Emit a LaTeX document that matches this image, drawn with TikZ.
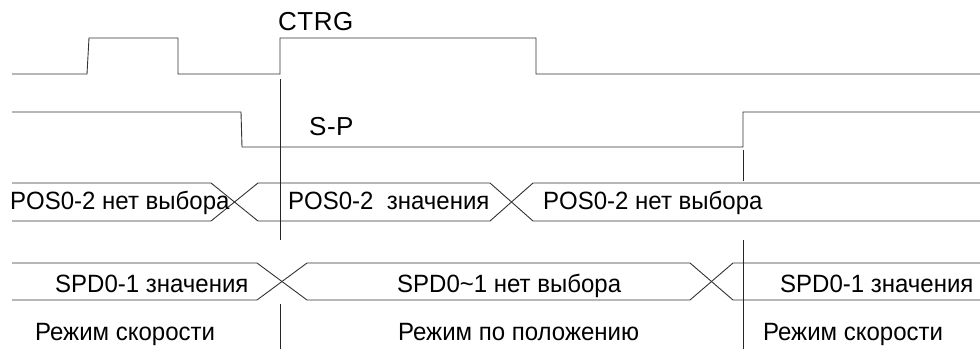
\documentclass[tikz,border=0pt]{standalone}
\usepackage{fontspec}
\setmainfont{Liberation Sans}[FakeStretch=0.96]
\newfontfamily\sigfont{Liberation Sans}[LetterSpace=2]
\usetikzlibrary{positioning}

\begin{document}
\begin{tikzpicture}[x=1pt, y=-1pt,
    wave/.style={draw=black!80, line width=0.9pt},
    marker/.style={draw=black!85, line width=0.9pt},
    lbl/.style={font=\fontsize{25}{29}\selectfont, anchor=base west, inner sep=0pt, text=black},
    siglbl/.style={font=\sigfont\fontsize{26}{30}\selectfont, anchor=base west, inner sep=0pt, text=black}]
  \useasboundingbox (0,0) rectangle (980,349);

  % CTRG input
  \draw[wave] (12,74) -- (87,74) -- (89,38) -- (178,38) -- (178,74) -- (280,74)
    -- (280,38) -- (536,38) -- (536,74) -- (980,74);
  \node[siglbl] (ctrg) at (278,30) {CTRG};

  % S-P input
  \draw[wave] (12,112) -- (241,112) -- (242,147) -- (743,147) -- (743,112) -- (980,112);
  \node[siglbl] (sp) at (309,135) {S-P};

  % POS0-2 bus
  \draw[wave] (12,183) -- (211,183) -- (258,221) -- (490,221) -- (533,183) -- (980,183);
  \draw[wave] (12,221) -- (211,221) -- (258,183) -- (490,183) -- (533,221) -- (980,221);
  \node[lbl] (pos1) at (10,209) {POS0-2 нет выбора};
  \node[lbl] (pos2) at (288,209) {POS0-2\ \ значения};
  \node[lbl] (pos3) at (543,209) {POS0-2 нет выбора};

  % SPD0-1 bus
  \draw[wave] (12,263) -- (257,263) -- (307,300) -- (690,300) -- (733,263) -- (980,263);
  \draw[wave] (12,300) -- (257,300) -- (307,263) -- (690,263) -- (733,300) -- (980,300);
  \node[lbl] (spd1) at (55,292) {SPD0-1 значения};
  \node[lbl] (spd2) at (397,292) {SPD0\textasciitilde1 нет выбора};
  \node[lbl] (spd3) at (780,292) {SPD0-1 значения};

  % mode labels
  \node[lbl] (mode1) at (35,340) {Режим скорости};
  \node[lbl] (mode2) at (398,340) {Режим по положению};
  \node[lbl] (mode3) at (763,340) {Режим скорости};

  % time markers
  \draw[marker] (280,79) -- (280,240);
  \draw[marker] (280,304) -- (280,349);
  \draw[marker] (743,150) -- (743,181);
  \draw[marker] (743,240) -- (743,349);
\end{tikzpicture}
\end{document}
